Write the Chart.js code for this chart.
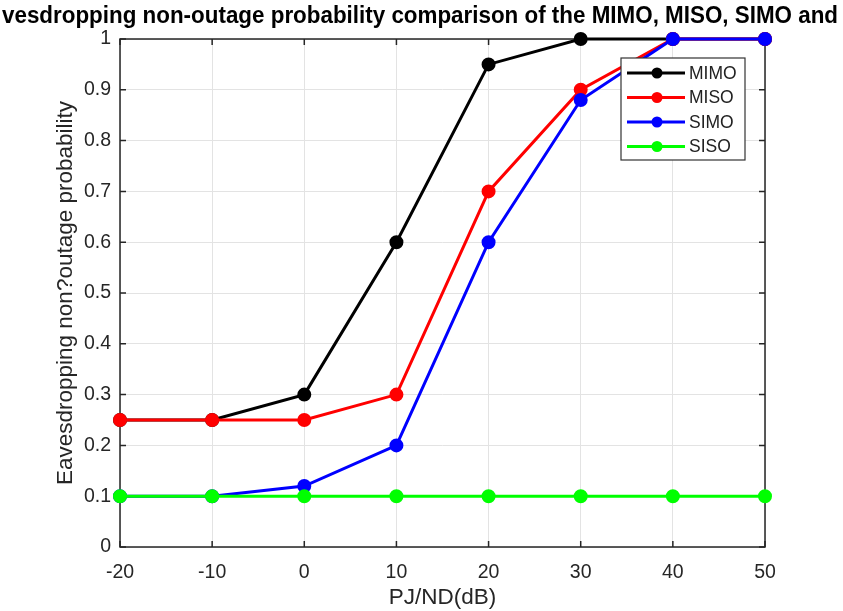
<!DOCTYPE html>
<html>
<head>
<meta charset="utf-8">
<script src="https://cdn.jsdelivr.net/npm/chart.js@4/dist/chart.umd.min.js"></script>
<style>
  html, body { margin: 0; padding: 0; background: #fff; }
  #wrap { width: 843px; height: 611px; }
</style>
</head>
<body>
<div id="wrap"><canvas id="grafica" width="843" height="611"></canvas></div>
<script>
// datos
const pjnd = [-20, -10, 0, 10, 20, 30, 40, 50];
const mimo = [0.25, 0.25, 0.3, 0.6, 0.95, 1, 1, 1];
const miso = [0.25, 0.25, 0.25, 0.3, 0.7, 0.9, 1, 1];
const simo = [0.1, 0.1, 0.12, 0.2, 0.6, 0.88, 1, 1];
const siso = [0.1, 0.1, 0.1, 0.1, 0.1, 0.1, 0.1, 0.1];
const nombres = ["MIMO", "MISO", "SIMO", "SISO"];
const colores = ["#000000", "#ff0000", "#0000ff", "#00ff00"];
const xTicks = [-20, -10, 0, 10, 20, 30, 40, 50];
const yTicks = [0, 0.1, 0.2, 0.3, 0.4, 0.5, 0.6, 0.7, 0.8, 0.9, 1];
const titulo = "vesdropping non-outage probability comparison of the MIMO, MISO, SIMO and";
const etiquetaX = "PJ/ND(dB)";
const etiquetaY = "Eavesdropping non?outage probability";

const series = [mimo, miso, simo, siso];
const ejeColor = "#262626";
const fuente = "'Liberation Sans', Arial, sans-serif";

function serie(i) {
  return {
    label: nombres[i],
    data: pjnd.map((x, k) => ({ x: x, y: series[i][k] })),
    borderColor: colores[i],
    backgroundColor: colores[i],
    borderWidth: 3,
    pointRadius: 5.5,
    pointHoverRadius: 5.5,
    tension: 0,
    clip: false,
    order: 4 - i, // el ultimo encima, como en matlab
  };
}

// titulo, caja, marcas hacia dentro y leyenda
const extras = {
  id: "extras",
  beforeDatasetsDraw(chart) {
    const ctx = chart.ctx;
    const a = chart.chartArea;
    const sx = chart.scales.x, sy = chart.scales.y;
    ctx.save();
    ctx.strokeStyle = ejeColor;
    ctx.lineWidth = 1.5;
    ctx.beginPath();
    ctx.rect(a.left, a.top, a.right - a.left, a.bottom - a.top);
    ctx.stroke();
    ctx.beginPath();
    xTicks.forEach((v) => {
      const p = sx.getPixelForValue(v);
      ctx.moveTo(p, a.bottom); ctx.lineTo(p, a.bottom - 6);
      ctx.moveTo(p, a.top); ctx.lineTo(p, a.top + 6);
    });
    yTicks.forEach((v) => {
      const p = sy.getPixelForValue(v);
      ctx.moveTo(a.left, p); ctx.lineTo(a.left + 6, p);
      ctx.moveTo(a.right, p); ctx.lineTo(a.right - 6, p);
    });
    ctx.stroke();
    ctx.restore();
  },
  afterDraw(chart) {
    const ctx = chart.ctx;
    ctx.save();
    // titulo
    ctx.fillStyle = "#000";
    ctx.font = "bold 23px " + fuente;
    ctx.textAlign = "center";
    ctx.textBaseline = "middle";
    ctx.fillText(titulo, 420, 17, 836);

    // leyenda
    const lx = 621, ly = 58, lw = 124, lh = 102;
    ctx.fillStyle = "#fff";
    ctx.fillRect(lx, ly, lw, lh);
    ctx.strokeStyle = "#333";
    ctx.lineWidth = 1.2;
    ctx.strokeRect(lx, ly, lw, lh);
    ctx.font = "17.5px " + fuente;
    ctx.textAlign = "left";
    nombres.forEach((n, i) => {
      const y = ly + 15 + i * 24.5;
      ctx.strokeStyle = colores[i];
      ctx.lineWidth = 3;
      ctx.beginPath();
      ctx.moveTo(lx + 6, y); ctx.lineTo(lx + 64, y);
      ctx.stroke();
      ctx.fillStyle = colores[i];
      ctx.beginPath();
      ctx.arc(lx + 36, y, 5.5, 0, Math.PI * 2);
      ctx.fill();
      ctx.fillStyle = "#222";
      ctx.fillText(n, lx + 68, y + 1);
    });
    ctx.restore();
  },
};

new Chart(document.getElementById("grafica").getContext("2d"), {
  type: "line",
  data: { datasets: [0, 1, 2, 3].map(serie) },
  options: {
    responsive: false,
    animation: false,
    events: [],
    layout: { padding: { top: 39, right: 78, left: 52, bottom: 0 } },
    plugins: { legend: { display: false }, title: { display: false }, tooltip: { enabled: false } },
    scales: {
      x: {
        type: "linear",
        min: -20,
        max: 50,
        afterBuildTicks: (s) => { s.ticks = xTicks.map((v) => ({ value: v })); },
        afterFit: (s) => { s.height = 64; },
        grid: { color: "#e3e3e3", lineWidth: 1, tickLength: 0 },
        border: { display: false },
        ticks: { color: ejeColor, font: { size: 19.5, family: fuente }, padding: 14, maxRotation: 0 },
        title: { display: true, text: etiquetaX, color: ejeColor, font: { size: 22.5, family: fuente }, padding: { top: 4, bottom: 0 } },
      },
      y: {
        min: 0,
        max: 1,
        afterBuildTicks: (s) => { s.ticks = yTicks.map((v) => ({ value: v })); },
        afterFit: (s) => { s.width = 68; },
        grid: { color: "#e3e3e3", lineWidth: 1, tickLength: 0 },
        border: { display: false },
        ticks: { color: ejeColor, font: { size: 19.5, family: fuente }, padding: 9, callback: (v) => String(Math.round(v * 10) / 10) },
        title: { display: true, text: etiquetaY, color: ejeColor, font: { size: 22.5, family: fuente }, padding: { top: 0, bottom: 0 } },
      },
    },
  },
  plugins: [extras],
});
</script>
</body>
</html>
